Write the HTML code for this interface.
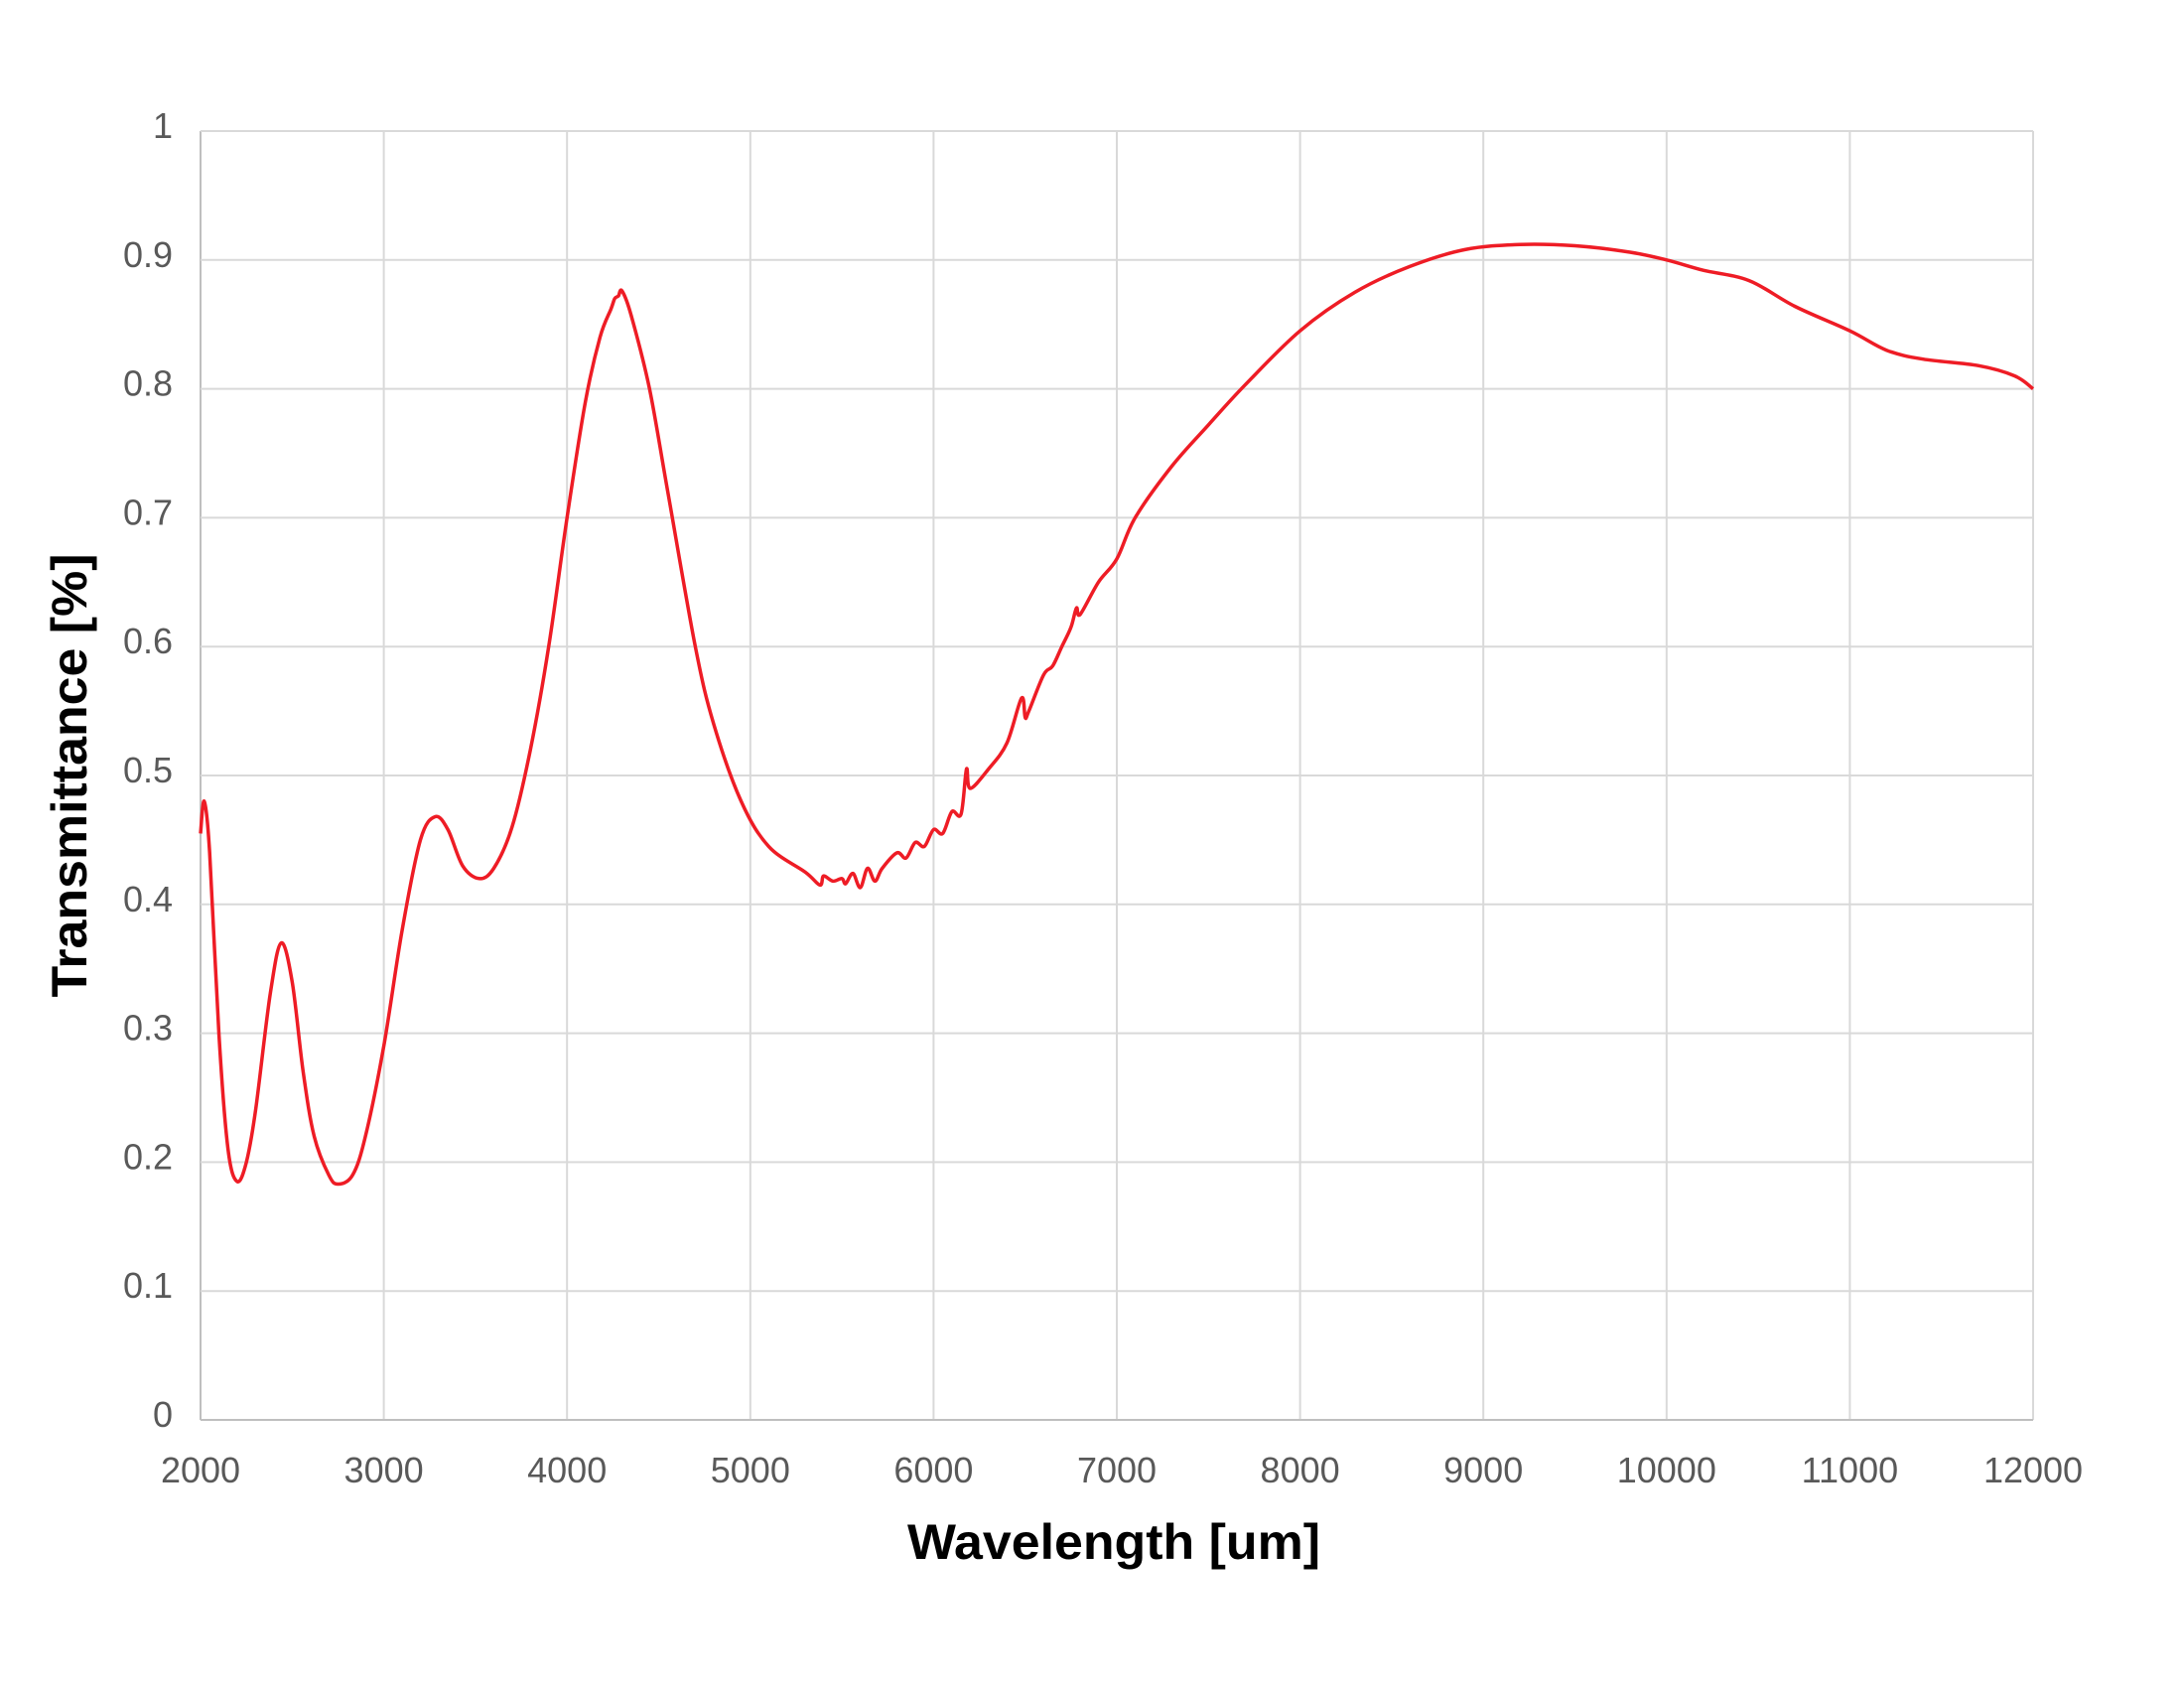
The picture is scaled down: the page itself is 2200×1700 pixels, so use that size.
<!DOCTYPE html>
<html><head><meta charset="utf-8"><style>
html,body{margin:0;padding:0;background:#fff;}
svg{display:block;font-family:"Liberation Sans",sans-serif;}
</style></head><body>
<svg id="chart" width="2200" height="1700" viewBox="0 0 2200 1700" xmlns="http://www.w3.org/2000/svg">
<rect width="2200" height="1700" fill="#fff"/>
<g id="grid"></g>
<g id="ticks"></g>
<g id="series"></g>
<text x="1122" y="1570" text-anchor="middle" font-size="50" font-weight="bold" fill="#000" textLength="416" lengthAdjust="spacingAndGlyphs">Wavelength [um]</text>
<text transform="translate(87,781) rotate(-90)" text-anchor="middle" font-size="50" font-weight="bold" fill="#000" textLength="447" lengthAdjust="spacingAndGlyphs">Transmittance [%]</text>
</svg>
<script>
const xTicks = [2000,3000,4000,5000,6000,7000,8000,9000,10000,11000,12000];
const yTicks = [0,0.1,0.2,0.3,0.4,0.5,0.6,0.7,0.8,0.9,1];
const yTickLabels = ["0","0.1","0.2","0.3","0.4","0.5","0.6","0.7","0.8","0.9","1"];
const wavelengths = [2000,2020,2050,2100,2150,2200,2250,2300,2380,2440,2500,2560,2620,2700,2750,2830,2900,3000,3100,3200,3280,3350,3430,3520,3600,3700,3800,3900,4000,4100,4180,4240,4260,4280,4300,4350,4450,4550,4700,4800,4950,5100,5300,5380,5400,5450,5500,5520,5560,5600,5640,5680,5720,5800,5850,5900,5950,6000,6050,6100,6150,6180,6200,6300,6400,6480,6500,6520,6600,6650,6700,6750,6780,6800,6900,7000,7100,7300,7500,7700,8000,8300,8600,8900,9200,9500,9800,10000,10200,10450,10700,11000,11200,11400,11700,11900,12000];
const transmittance = [0.455,0.48,0.44,0.3,0.21,0.185,0.2,0.24,0.33,0.37,0.34,0.27,0.22,0.19,0.183,0.19,0.22,0.29,0.38,0.45,0.468,0.458,0.43,0.42,0.428,0.46,0.52,0.6,0.7,0.79,0.84,0.862,0.87,0.872,0.876,0.857,0.8,0.72,0.6,0.54,0.48,0.445,0.425,0.415,0.422,0.418,0.42,0.416,0.424,0.413,0.428,0.418,0.428,0.44,0.436,0.448,0.445,0.458,0.455,0.472,0.47,0.505,0.49,0.505,0.525,0.56,0.545,0.55,0.578,0.585,0.6,0.615,0.63,0.625,0.65,0.668,0.7,0.74,0.772,0.803,0.845,0.875,0.895,0.908,0.912,0.911,0.906,0.9,0.892,0.884,0.864,0.845,0.83,0.823,0.818,0.81,0.8];

const X0=202, X1=2048, Y0=1430, Y1=132;
const xScale = v => X0 + (v-2000)/(12000-2000)*(X1-X0);
const yScale = v => Y0 - v*(Y0-Y1);
const NS="http://www.w3.org/2000/svg";
const grid=document.getElementById('grid'), ticks=document.getElementById('ticks'), series=document.getElementById('series');

xTicks.forEach((t,i)=>{
  const l=document.createElementNS(NS,'line');
  l.setAttribute('x1',xScale(t));l.setAttribute('x2',xScale(t));l.setAttribute('y1',Y1);l.setAttribute('y2',Y0);
  l.setAttribute('stroke', i===0 ? '#bfbfbf' : '#d9d9d9');l.setAttribute('stroke-width','2');
  
  
  grid.appendChild(l);
  const tx=document.createElementNS(NS,'text');
  tx.setAttribute('x',xScale(t));tx.setAttribute('y',1493);tx.setAttribute('text-anchor','middle');
  tx.setAttribute('font-size','36');tx.setAttribute('fill','#595959');
  tx.textContent=String(t);
  
  
  ticks.appendChild(tx);
});
yTicks.forEach((t,i)=>{
  const l=document.createElementNS(NS,'line');
  l.setAttribute('x1',X0);l.setAttribute('x2',X1);l.setAttribute('y1',yScale(t));l.setAttribute('y2',yScale(t));
  l.setAttribute('stroke', i===0 ? '#bfbfbf' : '#d9d9d9');l.setAttribute('stroke-width','2');
  
  
  grid.appendChild(l);
  const tx=document.createElementNS(NS,'text');
  tx.setAttribute('x',174);tx.setAttribute('y',yScale(t)+7);tx.setAttribute('text-anchor','end');
  tx.setAttribute('font-size','36');tx.setAttribute('fill','#595959');
  tx.textContent=yTickLabels[i];
  
  
  ticks.appendChild(tx);
});
const pts = wavelengths.map((w,i)=>[xScale(w), yScale(transmittance[i])]);
let d = 'M' + pts[0][0].toFixed(1) + ',' + pts[0][1].toFixed(1);
for (let i=0;i<pts.length-1;i++){
  const p0=pts[Math.max(0,i-1)], p1=pts[i], p2=pts[i+1], p3=pts[Math.min(pts.length-1,i+2)];
  const k=1/6;
  const c1x=p1[0]+(p2[0]-p0[0])*k, c1y=p1[1]+(p2[1]-p0[1])*k;
  const c2x=p2[0]-(p3[0]-p1[0])*k, c2y=p2[1]-(p3[1]-p1[1])*k;
  d += 'C'+c1x.toFixed(1)+','+c1y.toFixed(1)+' '+c2x.toFixed(1)+','+c2y.toFixed(1)+' '+p2[0].toFixed(1)+','+p2[1].toFixed(1);
}
const p=document.createElementNS(NS,'path');
p.setAttribute('d',d);p.setAttribute('fill','none');p.setAttribute('stroke','#ee1c25');
p.setAttribute('stroke-width','3.5');p.setAttribute('stroke-linejoin','round');


series.appendChild(p);
</script>
</body></html>
